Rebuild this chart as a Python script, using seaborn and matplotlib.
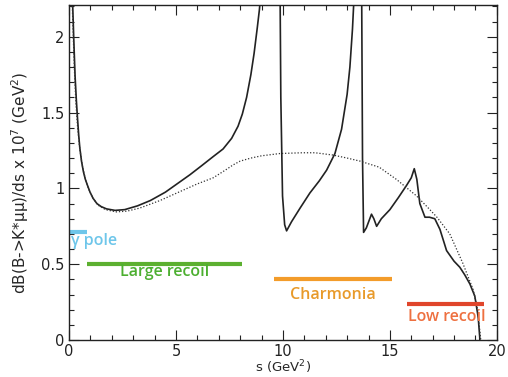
import numpy as np
import pandas as pd
import seaborn as sns
from matplotlib import pyplot as plt
from matplotlib.ticker import MultipleLocator

# solid curve (full prediction with resonances)
s_full = [0.12, 0.17, 0.22, 0.28, 0.34, 0.39, 0.45, 0.5, 0.58, 0.67, 0.76, 0.86,
          0.98, 1.12, 1.3, 1.5, 1.75, 2.15, 2.6, 3.2, 3.8, 4.5, 5.2, 5.65, 6.2,
          6.74, 7.2, 7.6, 7.9, 8.1, 8.3, 8.5, 8.65, 8.8, 8.9, 9.0, 9.1, 9.6,
          9.86, 9.9, 9.98, 10.08, 10.17, 10.4, 10.8, 11.26, 11.7, 12.04, 12.43,
          12.74, 13.0, 13.13, 13.25, 13.32, 13.45, 13.6, 13.68, 13.72, 13.77,
          13.9, 14.14, 14.25, 14.38, 14.6, 15.0, 15.4, 15.78, 16.0, 16.14, 16.26,
          16.4, 16.64, 16.85, 17.1, 17.34, 17.65, 18.0, 18.27, 18.5, 18.74,
          18.97, 19.13, 19.2, 19.23]
y_full = [2.4, 2.2, 1.98, 1.74, 1.58, 1.47, 1.35, 1.27, 1.18, 1.11, 1.06, 1.02,
          0.975, 0.935, 0.90, 0.88, 0.865, 0.855, 0.86, 0.885, 0.92, 0.975, 1.045, 1.09, 1.15,
          1.21, 1.26, 1.33, 1.41, 1.49, 1.60, 1.75, 1.89, 2.06, 2.18, 2.35, 2.5, 2.5,
          2.4, 1.6, 0.95, 0.76, 0.72, 0.78, 0.87, 0.97, 1.05, 1.12, 1.23,
          1.39, 1.62, 1.80, 2.05, 2.25, 2.5, 2.5, 2.3, 1.2, 0.71,
          0.74, 0.83, 0.80, 0.75, 0.80, 0.86, 0.94, 1.02, 1.07, 1.13, 1.06,
          0.90, 0.81, 0.81, 0.80, 0.73, 0.59, 0.52, 0.48, 0.43, 0.37,
          0.29, 0.15, 0.02, -0.1]

# dotted curve (non-resonant)
s_nr = [0.15, 0.2, 0.26, 0.32, 0.4, 0.5, 0.62, 0.75, 0.9, 1.1, 1.35, 1.7, 2.2,
        2.7, 3.3, 4.25, 5.2, 6.0, 6.74, 7.3, 7.67, 8.0, 8.5, 9.0, 9.86, 10.9,
        11.5, 12.34, 13.0, 13.6, 14.5, 15.3, 16.25, 16.8, 17.2, 17.8, 18.4,
        18.9, 19.1, 19.25]
y_nr = [2.2, 1.98, 1.74, 1.56, 1.4, 1.26, 1.15, 1.07, 1.0, 0.94, 0.89, 0.86, 0.845,
        0.85, 0.87, 0.92, 0.98, 1.03, 1.07, 1.12, 1.155, 1.18, 1.20, 1.215, 1.23, 1.235,
        1.235, 1.22, 1.20, 1.18, 1.14, 1.06, 0.95, 0.87, 0.81, 0.70, 0.51,
        0.33, 0.2, 0.0]

# kinematic regions
region_names = ['γ pole', 'Large recoil', 'Charmonia', 'Low recoil']
region_start = [0.0, 0.83, 9.6, 15.8]
region_end = [0.85, 8.1, 15.1, 19.4]
region_y = [0.71, 0.50, 0.40, 0.24]
region_text_x = [0.1, 4.49, 12.34, 17.66]
region_text_y = [0.65, 0.45, 0.30, 0.15]
bar_colors = ['#6ec6ea', '#5cb030', '#f39c2a', '#e0452b']
text_colors = ['#6ec6ea', '#4caf30', '#e89a2a', '#ee7040']

df_full = pd.DataFrame({'s': s_full, 'y': y_full})
df_nr = pd.DataFrame({'s': s_nr, 'y': y_nr})

sns.set_style('ticks')
plt.rcParams['font.family'] = ['DejaVu Sans']

fig = plt.figure(figsize=(5.08, 3.77), dpi=100)
ax = fig.add_axes([0.136, 0.098, 0.842, 0.889])

sns.lineplot(data=df_full, x='s', y='y', sort=False, estimator=None,
             color='#222222', lw=1.2, ax=ax)
sns.lineplot(data=df_nr, x='s', y='y', sort=False, estimator=None,
             color='#333333', lw=0.9, linestyle=(0, (1, 1.5)), ax=ax)

for i, name in enumerate(region_names):
    ax.plot([region_start[i], region_end[i]], [region_y[i], region_y[i]],
            color=bar_colors[i], lw=3, solid_capstyle='butt')
    ha = 'left' if i == 0 else 'center'
    ax.text(region_text_x[i], region_text_y[i], name, color=text_colors[i],
            fontsize=11.5, fontweight='semibold', ha=ha, va='center',
            family=['Open Sans', 'DejaVu Sans'])

ax.set_xlim(0, 20)
ax.set_ylim(0, 2.21)
ax.xaxis.set_major_locator(MultipleLocator(5))
ax.xaxis.set_minor_locator(MultipleLocator(1))
ax.yaxis.set_major_locator(MultipleLocator(0.5))
ax.yaxis.set_minor_locator(MultipleLocator(0.1))
ax.yaxis.set_major_formatter(plt.FuncFormatter(lambda v, p: f'{v:g}'))
ax.tick_params(which='both', direction='in', top=True, right=True, width=0.8,
               labelsize=10.5, colors='#222222')
ax.tick_params(axis='x', pad=2.5)
ax.tick_params(which='major', length=7)
ax.tick_params(which='minor', length=3.5)
for sp in ax.spines.values():
    sp.set_linewidth(1.0)
    sp.set_color('#222222')

ax.set_xlabel('s (GeV$^2$)', fontsize=9.5)
ax.xaxis.set_label_coords(0.5, -0.056)
ax.xaxis.label.set_va('top')
ax.set_ylabel('dB(B->K*μμ)/ds x 10$^7$ (GeV$^2$)', fontsize=11)
ax.yaxis.set_label_coords(-0.115, 0.47)
ax.yaxis.label.set_va('center')

fig.savefig('out.png', dpi=100)
